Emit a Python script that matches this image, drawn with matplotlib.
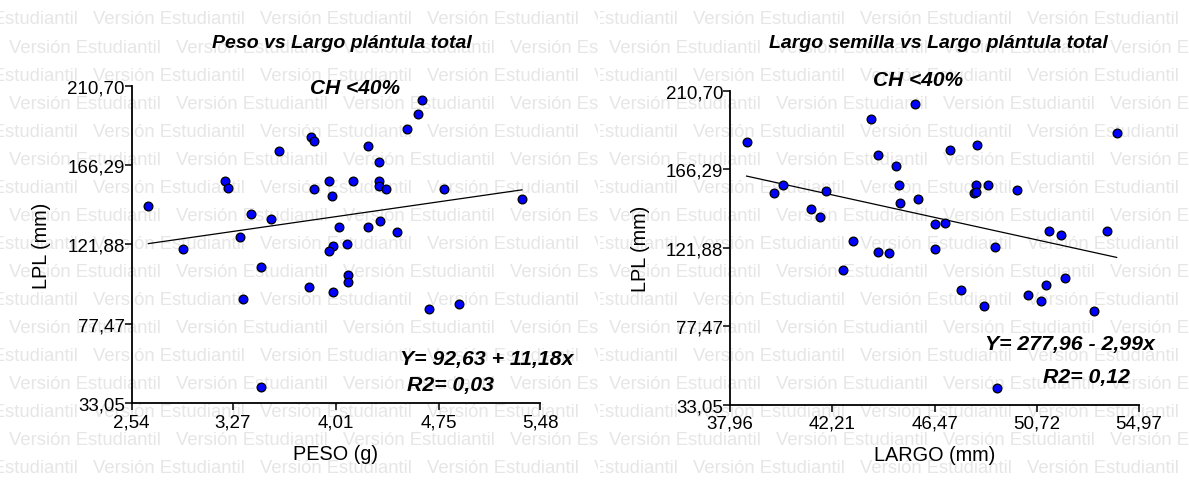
import matplotlib
matplotlib.use("Agg")
import matplotlib.pyplot as plt

plt.rcParams['font.family'] = ['Liberation Sans', 'DejaVu Sans']

# peso (g) vs largo plantula total (mm)
peso = [2.66, 2.91, 3.21, 3.23, 3.32, 3.40, 3.54, 3.60, 3.83, 3.85,
        3.85, 3.96, 3.98, 4.03, 3.99, 3.96, 4.09, 4.13, 4.24, 4.24,
        4.32, 4.32, 4.32, 4.37, 4.33, 4.45, 4.52, 4.60, 4.63, 4.79,
        5.35, 3.47, 3.34, 3.47, 3.82, 3.99, 4.10, 4.10, 4.68, 4.90]
lpl_peso = [143.6, 119.4, 157.4, 153.6, 126.1, 139.1, 136.2, 174.4, 181.8, 180.0,
            152.9, 157.4, 149.2, 131.5, 121.2, 118.4, 122.3, 157.4, 177.2, 131.5,
            167.9, 157.4, 154.8, 152.9, 135.2, 128.7, 186.5, 194.7, 202.9, 152.9,
            147.3, 109.3, 91.6, 42.3, 98.1, 95.3, 104.6, 100.7, 86.0, 88.8]

# largo semilla (mm) vs largo plantula total (mm)
largo = [38.65, 39.80, 40.15, 41.32, 41.72, 41.97, 43.06, 43.81, 44.10, 44.10,
         44.57, 44.85, 44.99, 45.04, 45.67, 45.79, 46.47, 46.90, 46.47, 47.10,
         48.25, 48.18, 48.11, 48.19, 48.68, 49.00, 49.90, 51.24, 51.73, 53.63,
         54.04, 42.66, 47.58, 48.51, 50.37, 50.88, 51.10, 51.88, 53.09, 49.06]
lpl_largo = [181.9, 152.8, 157.5, 143.8, 139.1, 154.0, 125.8, 194.7, 174.3, 119.6,
             118.7, 167.9, 157.5, 147.2, 203.2, 149.4, 135.3, 136.0, 121.1, 177.2,
             180.0, 157.5, 152.8, 153.2, 157.5, 122.1, 154.7, 131.5, 128.9, 131.5,
             186.6, 109.3, 98.1, 88.7, 95.3, 91.6, 100.9, 104.6, 86.1, 42.3]

# regression coefficients (intercept, slope) and R2
fit_peso = (92.63, 11.18)
fit_largo = (277.96, -2.99)
r2_peso = 0.03
r2_largo = 0.12

yticks = [33.05, 77.47, 121.88, 166.29, 210.70]
xticks_peso = [2.54, 3.27, 4.01, 4.75, 5.48]
xticks_largo = [37.96, 42.21, 46.47, 50.72, 54.97]

W, H = 1189, 481
fig = plt.figure(figsize=(W / 100, H / 100), dpi=100)


def coma(v):
    return f"{v:.2f}".replace('.', ',')


def watermark(left, width):
    bg = fig.add_axes([left / W, 0, width / W, 1], zorder=0)
    bg.set_xlim(0, width)
    bg.set_ylim(H, 0)
    bg.axis('off')
    for i in range(17):
        y = 20 + 28.06 * i
        x = 93 - 167 if i % 2 == 0 else 9 - 167
        while x < width:
            bg.text(x, y, "Versión Estudiantil", fontsize=13.3, color='#e6e6e6',
                    ha='left', va='center', clip_on=True)
            x += 167


def panel(rect, xs, ys, xticks, fit, xlabel):
    ax = fig.add_axes(rect, zorder=1)
    ax.set_facecolor('none')
    ax.set_xlim(xticks[0], xticks[-1])
    ax.set_ylim(yticks[0], yticks[-1])
    for s in ['top', 'right']:
        ax.spines[s].set_visible(False)
    for s in ['left', 'bottom']:
        ax.spines[s].set_linewidth(1.3)
    ax.set_xticks(xticks)
    ax.set_xticklabels([coma(v) for v in xticks])
    ax.set_yticks(yticks)
    ax.set_yticklabels([coma(v) for v in yticks])
    ax.tick_params(axis='both', length=5, width=1.1, labelsize=13.5, pad=2)
    ax.tick_params(axis='y', pad=0)

    x0, x1 = min(xs), max(xs)
    ax.plot([x0, x1], [fit[0] + fit[1] * x0, fit[0] + fit[1] * x1],
            color='black', lw=0.9, zorder=2)
    ax.plot(xs, ys, 'o', ms=6.3, mfc='#0000ff', mec='black', mew=0.9,
            zorder=3, clip_on=False)
    ax.set_xlabel(xlabel, fontsize=14.3, labelpad=10)
    ax.set_ylabel("LPL (mm)", fontsize=14.3)
    return ax


watermark(0, 598)
watermark(600, 589)

ax1 = panel([131.7 / W, 1 - 404.3 / H, 408.3 / W, 317.6 / H],
            peso, lpl_peso, xticks_peso, fit_peso, "PESO (g)")
ax2 = panel([730 / W, 1 - 405.7 / H, 409 / W, 314 / H],
            largo, lpl_largo, xticks_largo, fit_largo, "LARGO (mm)")
ax1.yaxis.set_label_coords(-0.197, 0.5)
ax2.yaxis.set_label_coords(-0.195, 0.5)

bi = dict(fontweight='bold', fontstyle='italic', zorder=5)
fig.text(342 / W, 1 - 43 / H, "Peso vs Largo plántula total", ha='center', va='center', fontsize=14, **bi)
fig.text(355 / W, 1 - 88 / H, "CH <40%", ha='center', va='center', fontsize=15, **bi)
fig.text(938 / W, 1 - 43 / H, "Largo semilla vs Largo plántula total", ha='center', va='center', fontsize=14, **bi)
fig.text(918 / W, 1 - 80 / H, "CH <40%", ha='center', va='center', fontsize=15, **bi)

eq1 = f"Y= {coma(fit_peso[0])} + {coma(fit_peso[1])}x"
eq2 = f"Y= {coma(fit_largo[0])} - {coma(abs(fit_largo[1]))}x"
fig.text(400 / W, 1 - 360 / H, eq1, ha='left', va='center', fontsize=15.3, **bi)
fig.text(407 / W, 1 - 386 / H, f"R2= {coma(r2_peso)}", ha='left', va='center', fontsize=15.3, **bi)
fig.text(985 / W, 1 - 345 / H, eq2, ha='left', va='center', fontsize=15.3, **bi)
fig.text(1043 / W, 1 - 378 / H, f"R2= {coma(r2_largo)}", ha='left', va='center', fontsize=15.3, **bi)

fig.savefig("out.png", dpi=100)
